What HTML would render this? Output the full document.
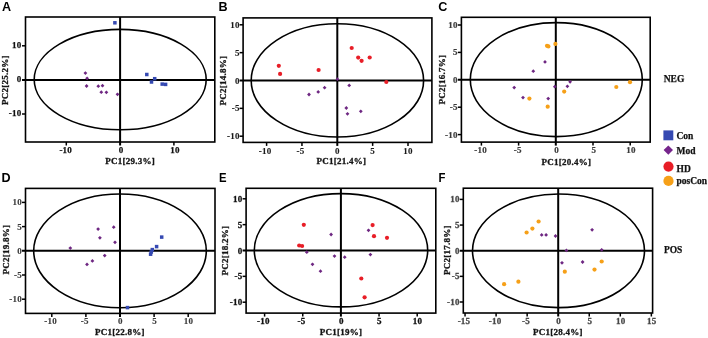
<!DOCTYPE html>
<html><head><meta charset="utf-8"><title>PCA</title>
<style>
html,body{margin:0;padding:0;background:#fff;}
body{width:708px;height:338px;overflow:hidden;font-family:"Liberation Serif",serif;}
svg{display:block;will-change:transform;}
.s{font-family:'Liberation Serif',serif;font-weight:bold;font-size:9.0px;letter-spacing:0.25px;}
</style></head><body>
<svg width="708" height="338" viewBox="0 0 708 338">
<rect width="708" height="338" fill="#fff"/>
<text transform="translate(2,11.2) scale(1.0,1)" font-family="'Liberation Sans', sans-serif" font-weight="bold" font-size="12.6" fill="#000">A</text>
<ellipse cx="120.2" cy="79.6" rx="86" ry="50.2" fill="none" stroke="#000" stroke-width="1.6"/>
<line x1="22" y1="79.9" x2="214.8" y2="79.9" stroke="#000" stroke-width="2"/>
<line x1="120.1" y1="17" x2="120.1" y2="145.5" stroke="#000" stroke-width="2"/>
<rect x="25.5" y="17" width="189.3" height="125" fill="none" stroke="#000" stroke-width="1.6"/>
<line x1="66.3" y1="142" x2="66.3" y2="145.5" stroke="#000" stroke-width="1.5"/>
<text x="65.75" y="153.4" text-anchor="middle" class="s" fill="#111" stroke="#111" stroke-width="0.25">-10</text>
<text x="121.1" y="153.4" text-anchor="middle" class="s" fill="#111" stroke="#111" stroke-width="0.25">0</text>
<line x1="173.9" y1="142" x2="173.9" y2="145.5" stroke="#000" stroke-width="1.5"/>
<text x="174.9" y="153.4" text-anchor="middle" class="s" fill="#111" stroke="#111" stroke-width="0.25">10</text>
<line x1="22" y1="45.8" x2="25.5" y2="45.8" stroke="#000" stroke-width="1.5"/>
<text x="21.6" y="48.25" text-anchor="end" class="s" fill="#111" stroke="#111" stroke-width="0.25">10</text>
<text x="21.6" y="82.35" text-anchor="end" class="s" fill="#111" stroke="#111" stroke-width="0.25">0</text>
<line x1="22" y1="114" x2="25.5" y2="114" stroke="#000" stroke-width="1.5"/>
<text x="21.6" y="116.45" text-anchor="end" class="s" fill="#111" stroke="#111" stroke-width="0.25">-10</text>
<text x="130.2" y="164.3" text-anchor="middle" class="s" fill="#151515" stroke="#151515" stroke-width="0.3">PC1[29.3%]</text>
<text transform="translate(7.6,80.1) rotate(-90)" text-anchor="middle" class="s" fill="#151515" stroke="#151515" stroke-width="0.3">PC2[25.2%]</text>
<rect x="113.15" y="21.05" width="3.5" height="3.5" fill="#3549b2"/>
<rect x="145.05" y="72.75" width="3.5" height="3.5" fill="#3549b2"/>
<rect x="152.95" y="76.95" width="3.5" height="3.5" fill="#3549b2"/>
<rect x="149.75" y="80.25" width="3.5" height="3.5" fill="#3549b2"/>
<rect x="160.45" y="82.35" width="3.5" height="3.5" fill="#3549b2"/>
<rect x="163.85" y="82.65" width="3.5" height="3.5" fill="#3549b2"/>
<path d="M85.4 71.2L87.3 73.1L85.4 75L83.5 73.1Z" fill="#6e2782"/>
<path d="M87.1 76.4L89 78.3L87.1 80.2L85.2 78.3Z" fill="#6e2782"/>
<path d="M86.6 84.1L88.5 86L86.6 87.9L84.7 86Z" fill="#6e2782"/>
<path d="M98.3 84.3L100.2 86.2L98.3 88.1L96.4 86.2Z" fill="#6e2782"/>
<path d="M102.5 83.8L104.4 85.7L102.5 87.6L100.6 85.7Z" fill="#6e2782"/>
<path d="M101.3 90.3L103.2 92.2L101.3 94.1L99.4 92.2Z" fill="#6e2782"/>
<path d="M106.4 90.4L108.3 92.3L106.4 94.2L104.5 92.3Z" fill="#6e2782"/>
<path d="M117.5 92.4L119.4 94.3L117.5 96.2L115.6 94.3Z" fill="#6e2782"/>
<text transform="translate(218.6,11.2) scale(1.0,1)" font-family="'Liberation Sans', sans-serif" font-weight="bold" font-size="12.6" fill="#000">B</text>
<ellipse cx="337.4" cy="80.4" rx="86.2" ry="56.6" fill="none" stroke="#000" stroke-width="1.6"/>
<line x1="239.6" y1="80.5" x2="431.9" y2="80.5" stroke="#000" stroke-width="2"/>
<line x1="337.3" y1="17.9" x2="337.3" y2="145.9" stroke="#000" stroke-width="2"/>
<rect x="243.1" y="17.9" width="188.8" height="124.5" fill="none" stroke="#000" stroke-width="1.6"/>
<line x1="266.6" y1="142.4" x2="266.6" y2="145.9" stroke="#000" stroke-width="1.5"/>
<text x="265.05" y="153.9" text-anchor="middle" class="s" fill="#1a1a1a" stroke="#1a1a1a" stroke-width="0.1">-10</text>
<line x1="301.95" y1="142.4" x2="301.95" y2="145.9" stroke="#000" stroke-width="1.5"/>
<text x="300.4" y="153.9" text-anchor="middle" class="s" fill="#1a1a1a" stroke="#1a1a1a" stroke-width="0.1">-5</text>
<text x="337.3" y="153.9" text-anchor="middle" class="s" fill="#1a1a1a" stroke="#1a1a1a" stroke-width="0.1">0</text>
<line x1="372.65" y1="142.4" x2="372.65" y2="145.9" stroke="#000" stroke-width="1.5"/>
<text x="372.65" y="153.9" text-anchor="middle" class="s" fill="#1a1a1a" stroke="#1a1a1a" stroke-width="0.1">5</text>
<line x1="408" y1="142.4" x2="408" y2="145.9" stroke="#000" stroke-width="1.5"/>
<text x="408" y="153.9" text-anchor="middle" class="s" fill="#1a1a1a" stroke="#1a1a1a" stroke-width="0.1">10</text>
<line x1="239.6" y1="24.8" x2="243.1" y2="24.8" stroke="#000" stroke-width="1.5"/>
<text x="239.8" y="27.8" text-anchor="end" class="s" fill="#1a1a1a" stroke="#1a1a1a" stroke-width="0.1">10</text>
<line x1="239.6" y1="52.65" x2="243.1" y2="52.65" stroke="#000" stroke-width="1.5"/>
<text x="239.8" y="55.65" text-anchor="end" class="s" fill="#1a1a1a" stroke="#1a1a1a" stroke-width="0.1">5</text>
<text x="239.8" y="83.5" text-anchor="end" class="s" fill="#1a1a1a" stroke="#1a1a1a" stroke-width="0.1">0</text>
<line x1="239.6" y1="108.35" x2="243.1" y2="108.35" stroke="#000" stroke-width="1.5"/>
<text x="239.8" y="111.35" text-anchor="end" class="s" fill="#1a1a1a" stroke="#1a1a1a" stroke-width="0.1">-5</text>
<line x1="239.6" y1="136.2" x2="243.1" y2="136.2" stroke="#000" stroke-width="1.5"/>
<text x="239.8" y="139.2" text-anchor="end" class="s" fill="#1a1a1a" stroke="#1a1a1a" stroke-width="0.1">-10</text>
<text x="341.4" y="163.7" text-anchor="middle" class="s" fill="#151515" stroke="#151515" stroke-width="0.3">PC1[21.4%]</text>
<text transform="translate(226,80.5) rotate(-90)" text-anchor="middle" class="s" fill="#151515" stroke="#151515" stroke-width="0.3">PC2[14.8%]</text>
<circle cx="278.8" cy="65.8" r="2.1" fill="#e81e27"/>
<circle cx="280.1" cy="73.9" r="2.1" fill="#e81e27"/>
<circle cx="318.6" cy="70" r="2.1" fill="#e81e27"/>
<circle cx="351.7" cy="48" r="2.1" fill="#e81e27"/>
<circle cx="358.2" cy="57.6" r="2.1" fill="#e81e27"/>
<circle cx="361.6" cy="60.8" r="2.1" fill="#e81e27"/>
<circle cx="369.7" cy="57.5" r="2.1" fill="#e81e27"/>
<circle cx="386.3" cy="82" r="2.1" fill="#e81e27"/>
<path d="M337.4 77.3L339.3 79.2L337.4 81.1L335.5 79.2Z" fill="#6e2782"/>
<path d="M349.2 83.5L351.1 85.4L349.2 87.3L347.3 85.4Z" fill="#6e2782"/>
<path d="M324.6 85.8L326.5 87.7L324.6 89.6L322.7 87.7Z" fill="#6e2782"/>
<path d="M318.2 90L320.1 91.9L318.2 93.8L316.3 91.9Z" fill="#6e2782"/>
<path d="M309 92.6L310.9 94.5L309 96.4L307.1 94.5Z" fill="#6e2782"/>
<path d="M346.3 106.1L348.2 108L346.3 109.9L344.4 108Z" fill="#6e2782"/>
<path d="M347.5 111.9L349.4 113.8L347.5 115.7L345.6 113.8Z" fill="#6e2782"/>
<path d="M360.8 109.4L362.7 111.3L360.8 113.2L358.9 111.3Z" fill="#6e2782"/>
<text transform="translate(438.2,11.4) scale(1.0,1)" font-family="'Liberation Sans', sans-serif" font-weight="bold" font-size="12.6" fill="#000">C</text>
<ellipse cx="556.3" cy="79.6" rx="86" ry="57" fill="none" stroke="#000" stroke-width="1.6"/>
<line x1="457.9" y1="79.8" x2="650.2" y2="79.8" stroke="#000" stroke-width="2"/>
<line x1="555.8" y1="17.3" x2="555.8" y2="145.6" stroke="#000" stroke-width="2"/>
<rect x="461.4" y="17.3" width="188.8" height="124.8" fill="none" stroke="#000" stroke-width="1.6"/>
<line x1="481.4" y1="142.1" x2="481.4" y2="145.6" stroke="#000" stroke-width="1.5"/>
<text x="480.65" y="153" text-anchor="middle" class="s" fill="#3c3c3c" stroke="#3c3c3c" stroke-width="0.2">-10</text>
<line x1="518.6" y1="142.1" x2="518.6" y2="145.6" stroke="#000" stroke-width="1.5"/>
<text x="517.85" y="153" text-anchor="middle" class="s" fill="#3c3c3c" stroke="#3c3c3c" stroke-width="0.2">-5</text>
<text x="556.6" y="153" text-anchor="middle" class="s" fill="#3c3c3c" stroke="#3c3c3c" stroke-width="0.2">0</text>
<line x1="593" y1="142.1" x2="593" y2="145.6" stroke="#000" stroke-width="1.5"/>
<text x="593.8" y="153" text-anchor="middle" class="s" fill="#3c3c3c" stroke="#3c3c3c" stroke-width="0.2">5</text>
<line x1="630.2" y1="142.1" x2="630.2" y2="145.6" stroke="#000" stroke-width="1.5"/>
<text x="631" y="153" text-anchor="middle" class="s" fill="#3c3c3c" stroke="#3c3c3c" stroke-width="0.2">10</text>
<line x1="457.9" y1="25" x2="461.4" y2="25" stroke="#000" stroke-width="1.5"/>
<text x="457.8" y="28" text-anchor="end" class="s" fill="#3c3c3c" stroke="#3c3c3c" stroke-width="0.2">10</text>
<line x1="457.9" y1="52.4" x2="461.4" y2="52.4" stroke="#000" stroke-width="1.5"/>
<text x="457.8" y="55.4" text-anchor="end" class="s" fill="#3c3c3c" stroke="#3c3c3c" stroke-width="0.2">5</text>
<text x="457.8" y="82.8" text-anchor="end" class="s" fill="#3c3c3c" stroke="#3c3c3c" stroke-width="0.2">0</text>
<line x1="457.9" y1="107.2" x2="461.4" y2="107.2" stroke="#000" stroke-width="1.5"/>
<text x="457.8" y="110.2" text-anchor="end" class="s" fill="#3c3c3c" stroke="#3c3c3c" stroke-width="0.2">-5</text>
<line x1="457.9" y1="134.6" x2="461.4" y2="134.6" stroke="#000" stroke-width="1.5"/>
<text x="457.8" y="137.6" text-anchor="end" class="s" fill="#3c3c3c" stroke="#3c3c3c" stroke-width="0.2">-10</text>
<text x="566.4" y="164.8" text-anchor="middle" class="s" fill="#151515" stroke="#151515" stroke-width="0.3">PC1[20.4%]</text>
<text transform="translate(444.8,79.7) rotate(-90)" text-anchor="middle" class="s" fill="#151515" stroke="#151515" stroke-width="0.3">PC2[16.7%]</text>
<path d="M545 60L546.9 61.9L545 63.8L543.1 61.9Z" fill="#6e2782"/>
<path d="M533.3 69.3L535.2 71.2L533.3 73.1L531.4 71.2Z" fill="#6e2782"/>
<path d="M514.2 85.7L516.1 87.6L514.2 89.5L512.3 87.6Z" fill="#6e2782"/>
<path d="M523 95.7L524.9 97.6L523 99.5L521.1 97.6Z" fill="#6e2782"/>
<path d="M548.2 96.7L550.1 98.6L548.2 100.5L546.3 98.6Z" fill="#6e2782"/>
<path d="M554.8 84.8L556.7 86.7L554.8 88.6L552.9 86.7Z" fill="#6e2782"/>
<path d="M570.1 79.9L572 81.8L570.1 83.7L568.2 81.8Z" fill="#6e2782"/>
<path d="M567.4 84.4L569.3 86.3L567.4 88.2L565.5 86.3Z" fill="#6e2782"/>
<circle cx="547" cy="45.8" r="2.1" fill="#f6a018"/>
<circle cx="548.4" cy="46.4" r="2.1" fill="#f6a018"/>
<circle cx="555.4" cy="43.9" r="2.1" fill="#f6a018"/>
<circle cx="529.4" cy="98.6" r="2.1" fill="#f6a018"/>
<circle cx="547.7" cy="106.7" r="2.1" fill="#f6a018"/>
<circle cx="564.2" cy="91.6" r="2.1" fill="#f6a018"/>
<circle cx="616.3" cy="87" r="2.1" fill="#f6a018"/>
<circle cx="630" cy="82.2" r="2.1" fill="#f6a018"/>
<text transform="translate(1.6,181.7) scale(1.0,1)" font-family="'Liberation Sans', sans-serif" font-weight="bold" font-size="12.6" fill="#000">D</text>
<ellipse cx="120" cy="250.85" rx="86.3" ry="56.85" fill="none" stroke="#000" stroke-width="1.6"/>
<line x1="22" y1="250.8" x2="215" y2="250.8" stroke="#000" stroke-width="2"/>
<line x1="120" y1="188.4" x2="120" y2="316.9" stroke="#000" stroke-width="2"/>
<rect x="25.5" y="188.4" width="189.5" height="125" fill="none" stroke="#000" stroke-width="1.6"/>
<line x1="51.8" y1="313.4" x2="51.8" y2="316.9" stroke="#000" stroke-width="1.5"/>
<text x="50.65" y="324" text-anchor="middle" class="s" fill="#3a3a3a" stroke="#3a3a3a" stroke-width="0.12">-10</text>
<line x1="85.9" y1="313.4" x2="85.9" y2="316.9" stroke="#000" stroke-width="1.5"/>
<text x="84.75" y="324" text-anchor="middle" class="s" fill="#3a3a3a" stroke="#3a3a3a" stroke-width="0.12">-5</text>
<text x="120.4" y="324" text-anchor="middle" class="s" fill="#3a3a3a" stroke="#3a3a3a" stroke-width="0.12">0</text>
<line x1="154.1" y1="313.4" x2="154.1" y2="316.9" stroke="#000" stroke-width="1.5"/>
<text x="154.5" y="324" text-anchor="middle" class="s" fill="#3a3a3a" stroke="#3a3a3a" stroke-width="0.12">5</text>
<line x1="188.2" y1="313.4" x2="188.2" y2="316.9" stroke="#000" stroke-width="1.5"/>
<text x="188.6" y="324" text-anchor="middle" class="s" fill="#3a3a3a" stroke="#3a3a3a" stroke-width="0.12">10</text>
<line x1="22" y1="202.4" x2="25.5" y2="202.4" stroke="#000" stroke-width="1.5"/>
<text x="21.9" y="205.4" text-anchor="end" class="s" fill="#3a3a3a" stroke="#3a3a3a" stroke-width="0.12">10</text>
<line x1="22" y1="226.6" x2="25.5" y2="226.6" stroke="#000" stroke-width="1.5"/>
<text x="21.9" y="229.6" text-anchor="end" class="s" fill="#3a3a3a" stroke="#3a3a3a" stroke-width="0.12">5</text>
<text x="21.9" y="253.8" text-anchor="end" class="s" fill="#3a3a3a" stroke="#3a3a3a" stroke-width="0.12">0</text>
<line x1="22" y1="275" x2="25.5" y2="275" stroke="#000" stroke-width="1.5"/>
<text x="21.9" y="278" text-anchor="end" class="s" fill="#3a3a3a" stroke="#3a3a3a" stroke-width="0.12">-5</text>
<line x1="22" y1="299.2" x2="25.5" y2="299.2" stroke="#000" stroke-width="1.5"/>
<text x="21.9" y="302.2" text-anchor="end" class="s" fill="#3a3a3a" stroke="#3a3a3a" stroke-width="0.12">-10</text>
<text x="119.8" y="334.5" text-anchor="middle" class="s" fill="#151515" stroke="#151515" stroke-width="0.3">PC1[22.8%]</text>
<text transform="translate(9.4,249.7) rotate(-90)" text-anchor="middle" class="s" fill="#151515" stroke="#151515" stroke-width="0.3">PC2[19.8%]</text>
<path d="M70.3 246.2L72.2 248.1L70.3 250L68.4 248.1Z" fill="#6e2782"/>
<path d="M98.1 227.2L100 229.1L98.1 231L96.2 229.1Z" fill="#6e2782"/>
<path d="M99.9 235.9L101.8 237.8L99.9 239.7L98 237.8Z" fill="#6e2782"/>
<path d="M113.7 225.3L115.6 227.2L113.7 229.1L111.8 227.2Z" fill="#6e2782"/>
<path d="M115 240.4L116.9 242.3L115 244.2L113.1 242.3Z" fill="#6e2782"/>
<path d="M104.7 253.7L106.6 255.6L104.7 257.5L102.8 255.6Z" fill="#6e2782"/>
<path d="M92.4 259L94.3 260.9L92.4 262.8L90.5 260.9Z" fill="#6e2782"/>
<path d="M87 262.5L88.9 264.4L87 266.3L85.1 264.4Z" fill="#6e2782"/>
<rect x="159.95" y="235.35" width="3.5" height="3.5" fill="#3549b2"/>
<rect x="154.85" y="244.85" width="3.5" height="3.5" fill="#3549b2"/>
<rect x="150.55" y="247.85" width="3.5" height="3.5" fill="#3549b2"/>
<rect x="149.55" y="250.25" width="3.5" height="3.5" fill="#3549b2"/>
<rect x="148.85" y="252.45" width="3.5" height="3.5" fill="#3549b2"/>
<rect x="125.75" y="305.85" width="3.5" height="3.5" fill="#3549b2"/>
<text transform="translate(219,182) scale(0.9,1)" font-family="'Liberation Sans', sans-serif" font-weight="bold" font-size="12.6" fill="#000">E</text>
<ellipse cx="341" cy="250.25" rx="86.7" ry="56.65" fill="none" stroke="#000" stroke-width="1.6"/>
<line x1="242.6" y1="250.5" x2="435.8" y2="250.5" stroke="#000" stroke-width="2"/>
<line x1="340.9" y1="188.3" x2="340.9" y2="316.6" stroke="#000" stroke-width="2"/>
<rect x="246.1" y="188.3" width="189.7" height="124.8" fill="none" stroke="#000" stroke-width="1.6"/>
<line x1="264.6" y1="313.1" x2="264.6" y2="316.6" stroke="#000" stroke-width="1.5"/>
<text x="263.45" y="324" text-anchor="middle" class="s" fill="#111" stroke="#111" stroke-width="0.3">-10</text>
<line x1="302.75" y1="313.1" x2="302.75" y2="316.6" stroke="#000" stroke-width="1.5"/>
<text x="301.6" y="324" text-anchor="middle" class="s" fill="#111" stroke="#111" stroke-width="0.3">-5</text>
<text x="341.3" y="324" text-anchor="middle" class="s" fill="#111" stroke="#111" stroke-width="0.3">0</text>
<line x1="379.05" y1="313.1" x2="379.05" y2="316.6" stroke="#000" stroke-width="1.5"/>
<text x="379.45" y="324" text-anchor="middle" class="s" fill="#111" stroke="#111" stroke-width="0.3">5</text>
<line x1="417.2" y1="313.1" x2="417.2" y2="316.6" stroke="#000" stroke-width="1.5"/>
<text x="417.6" y="324" text-anchor="middle" class="s" fill="#111" stroke="#111" stroke-width="0.3">10</text>
<line x1="242.6" y1="198.8" x2="246.1" y2="198.8" stroke="#000" stroke-width="1.5"/>
<text x="242.5" y="201.8" text-anchor="end" class="s" fill="#111" stroke="#111" stroke-width="0.3">10</text>
<line x1="242.6" y1="224.65" x2="246.1" y2="224.65" stroke="#000" stroke-width="1.5"/>
<text x="242.5" y="227.65" text-anchor="end" class="s" fill="#111" stroke="#111" stroke-width="0.3">5</text>
<text x="242.5" y="253.5" text-anchor="end" class="s" fill="#111" stroke="#111" stroke-width="0.3">0</text>
<line x1="242.6" y1="276.35" x2="246.1" y2="276.35" stroke="#000" stroke-width="1.5"/>
<text x="242.5" y="279.35" text-anchor="end" class="s" fill="#111" stroke="#111" stroke-width="0.3">-5</text>
<line x1="242.6" y1="302.2" x2="246.1" y2="302.2" stroke="#000" stroke-width="1.5"/>
<text x="242.5" y="305.2" text-anchor="end" class="s" fill="#111" stroke="#111" stroke-width="0.3">-10</text>
<text x="340.9" y="334.5" text-anchor="middle" class="s" fill="#151515" stroke="#151515" stroke-width="0.3">PC1[19%]</text>
<text transform="translate(228,250.6) rotate(-90)" text-anchor="middle" class="s" fill="#151515" stroke="#151515" stroke-width="0.3">PC2[18.2%]</text>
<circle cx="303.8" cy="224.8" r="2.1" fill="#e81e27"/>
<circle cx="299.2" cy="245.5" r="2.1" fill="#e81e27"/>
<circle cx="302.1" cy="246" r="2.1" fill="#e81e27"/>
<circle cx="372.6" cy="225.1" r="2.1" fill="#e81e27"/>
<circle cx="374" cy="236.2" r="2.1" fill="#e81e27"/>
<circle cx="387" cy="237.8" r="2.1" fill="#e81e27"/>
<circle cx="361.3" cy="278.5" r="2.1" fill="#e81e27"/>
<circle cx="364.6" cy="297.3" r="2.1" fill="#e81e27"/>
<path d="M331.1 232.6L333 234.5L331.1 236.4L329.2 234.5Z" fill="#6e2782"/>
<path d="M306.8 250.3L308.7 252.2L306.8 254.1L304.9 252.2Z" fill="#6e2782"/>
<path d="M334.5 254.2L336.4 256.1L334.5 258L332.6 256.1Z" fill="#6e2782"/>
<path d="M344.7 255.3L346.6 257.2L344.7 259.1L342.8 257.2Z" fill="#6e2782"/>
<path d="M312.5 262.4L314.4 264.3L312.5 266.2L310.6 264.3Z" fill="#6e2782"/>
<path d="M320.5 269.3L322.4 271.2L320.5 273.1L318.6 271.2Z" fill="#6e2782"/>
<path d="M368.5 228.4L370.4 230.3L368.5 232.2L366.6 230.3Z" fill="#6e2782"/>
<path d="M370.4 252.7L372.3 254.6L370.4 256.5L368.5 254.6Z" fill="#6e2782"/>
<text transform="translate(438.5,181.9) scale(0.9,1)" font-family="'Liberation Sans', sans-serif" font-weight="bold" font-size="12.6" fill="#000">F</text>
<ellipse cx="558.5" cy="250.8" rx="86" ry="56.8" fill="none" stroke="#000" stroke-width="1.6"/>
<line x1="459.8" y1="250.7" x2="652.6" y2="250.7" stroke="#000" stroke-width="2"/>
<line x1="558.2" y1="188.2" x2="558.2" y2="316.5" stroke="#000" stroke-width="2"/>
<rect x="463.3" y="188.2" width="189.3" height="124.8" fill="none" stroke="#000" stroke-width="1.6"/>
<line x1="465.05" y1="313" x2="465.05" y2="316.5" stroke="#000" stroke-width="1.5"/>
<text x="464" y="324" text-anchor="middle" class="s" fill="#484848" stroke="#484848" stroke-width="0.3">-15</text>
<line x1="496.1" y1="313" x2="496.1" y2="316.5" stroke="#000" stroke-width="1.5"/>
<text x="495.05" y="324" text-anchor="middle" class="s" fill="#484848" stroke="#484848" stroke-width="0.3">-10</text>
<line x1="527.15" y1="313" x2="527.15" y2="316.5" stroke="#000" stroke-width="1.5"/>
<text x="526.1" y="324" text-anchor="middle" class="s" fill="#484848" stroke="#484848" stroke-width="0.3">-5</text>
<text x="558.7" y="324" text-anchor="middle" class="s" fill="#484848" stroke="#484848" stroke-width="0.3">0</text>
<line x1="589.25" y1="313" x2="589.25" y2="316.5" stroke="#000" stroke-width="1.5"/>
<text x="589.75" y="324" text-anchor="middle" class="s" fill="#484848" stroke="#484848" stroke-width="0.3">5</text>
<line x1="620.3" y1="313" x2="620.3" y2="316.5" stroke="#000" stroke-width="1.5"/>
<text x="620.8" y="324" text-anchor="middle" class="s" fill="#484848" stroke="#484848" stroke-width="0.3">10</text>
<line x1="651.35" y1="313" x2="651.35" y2="316.5" stroke="#000" stroke-width="1.5"/>
<text x="651.85" y="324" text-anchor="middle" class="s" fill="#484848" stroke="#484848" stroke-width="0.3">15</text>
<line x1="459.8" y1="199.4" x2="463.3" y2="199.4" stroke="#000" stroke-width="1.5"/>
<text x="459.7" y="202.4" text-anchor="end" class="s" fill="#484848" stroke="#484848" stroke-width="0.3">10</text>
<line x1="459.8" y1="225.05" x2="463.3" y2="225.05" stroke="#000" stroke-width="1.5"/>
<text x="459.7" y="228.05" text-anchor="end" class="s" fill="#484848" stroke="#484848" stroke-width="0.3">5</text>
<text x="459.7" y="253.7" text-anchor="end" class="s" fill="#484848" stroke="#484848" stroke-width="0.3">0</text>
<line x1="459.8" y1="276.35" x2="463.3" y2="276.35" stroke="#000" stroke-width="1.5"/>
<text x="459.7" y="279.35" text-anchor="end" class="s" fill="#484848" stroke="#484848" stroke-width="0.3">-5</text>
<line x1="459.8" y1="302" x2="463.3" y2="302" stroke="#000" stroke-width="1.5"/>
<text x="459.7" y="305" text-anchor="end" class="s" fill="#484848" stroke="#484848" stroke-width="0.3">-10</text>
<text x="557.8" y="334.5" text-anchor="middle" class="s" fill="#151515" stroke="#151515" stroke-width="0.3">PC1[28.4%]</text>
<text transform="translate(450,250.2) rotate(-90)" text-anchor="middle" class="s" fill="#151515" stroke="#151515" stroke-width="0.3">PC2[17.8%]</text>
<path d="M541.7 233L543.6 234.9L541.7 236.8L539.8 234.9Z" fill="#6e2782"/>
<path d="M546.1 233L548 234.9L546.1 236.8L544.2 234.9Z" fill="#6e2782"/>
<path d="M555.5 234.1L557.4 236L555.5 237.9L553.6 236Z" fill="#6e2782"/>
<path d="M592.1 227.9L594 229.8L592.1 231.7L590.2 229.8Z" fill="#6e2782"/>
<path d="M566.4 248.5L568.3 250.4L566.4 252.3L564.5 250.4Z" fill="#6e2782"/>
<path d="M601.7 247.9L603.6 249.8L601.7 251.7L599.8 249.8Z" fill="#6e2782"/>
<path d="M562 260.9L563.9 262.8L562 264.7L560.1 262.8Z" fill="#6e2782"/>
<path d="M582.6 260.1L584.5 262L582.6 263.9L580.7 262Z" fill="#6e2782"/>
<circle cx="526.6" cy="232.5" r="2.1" fill="#f6a018"/>
<circle cx="532.4" cy="228.6" r="2.1" fill="#f6a018"/>
<circle cx="538.6" cy="221.5" r="2.1" fill="#f6a018"/>
<circle cx="601.7" cy="261.5" r="2.1" fill="#f6a018"/>
<circle cx="594.5" cy="269.6" r="2.1" fill="#f6a018"/>
<circle cx="564.8" cy="271.7" r="2.1" fill="#f6a018"/>
<circle cx="504.1" cy="284.2" r="2.1" fill="#f6a018"/>
<circle cx="518.4" cy="281.7" r="2.1" fill="#f6a018"/>
<text x="663.7" y="81.9" class="s" style="font-size:9.5px;letter-spacing:0" fill="#111" stroke="#111" stroke-width="0.25">NEG</text>
<text x="663.9" y="252.8" class="s" style="font-size:9.5px;letter-spacing:0" fill="#111" stroke="#111" stroke-width="0.25">POS</text>
<rect x="663.4" y="130.4" width="9.9" height="9.9" fill="#3549b2"/>
<path d="M668.3 145.4L673 150.1L668.3 154.8L663.6 150.1Z" fill="#76258c"/>
<circle cx="668.5" cy="166.6" r="5.1" fill="#e81e27"/>
<circle cx="668.5" cy="180.9" r="5.1" fill="#f6a018"/>
<text x="676.5" y="139.0" class="s" style="font-size:9.5px;letter-spacing:0" fill="#111" stroke="#111" stroke-width="0.25">Con</text>
<text x="676.5" y="153.9" class="s" style="font-size:9.5px;letter-spacing:0" fill="#111" stroke="#111" stroke-width="0.25">Mod</text>
<text x="676.5" y="171.6" class="s" style="font-size:9.5px;letter-spacing:0" fill="#111" stroke="#111" stroke-width="0.25">HD</text>
<text x="676.5" y="184.3" class="s" style="font-size:9.5px;letter-spacing:0" fill="#111" stroke="#111" stroke-width="0.25">posCon</text>
</svg>
</body></html>
